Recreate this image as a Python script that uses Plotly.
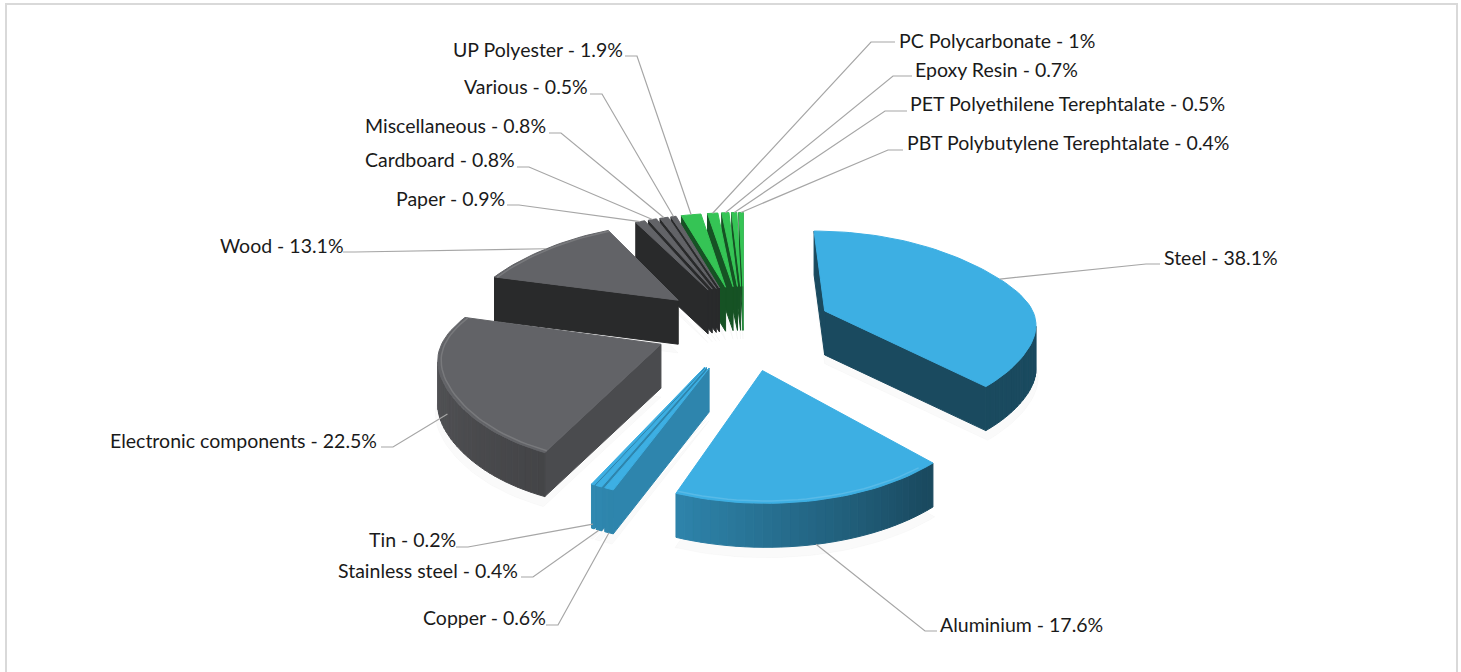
import math
import plotly.graph_objects as go

# ---- data ----
materials = ["Steel", "Aluminium", "Copper", "Stainless steel", "Tin",
             "Electronic components", "Wood", "Paper", "Cardboard", "Miscellaneous",
             "Various", "UP Polyester", "PC Polycarbonate", "Epoxy Resin",
             "PET Polyethilene Terephtalate", "PBT Polybutylene Terephtalate"]
shares = [38.1, 17.6, 0.6, 0.4, 0.2, 22.5, 13.1, 0.9, 0.8, 0.8, 0.5, 1.9, 1, 0.7, 0.5, 0.4]
groups = ["metal"] * 5 + ["other"] * 6 + ["plastic"] * 5

# ---- styling / layout ----
TOPS = {"metal": (61, 175, 227), "other": (98, 99, 103), "plastic": (53, 196, 85)}
LABEL_POS = [(1162, 257), (938, 624), (421, 617), (336, 570), (367, 539), (108, 440), (218, 245),
             (394, 198), (363, 159), (363, 125), (462, 86), (451, 49), (897, 40), (913, 69),
             (908, 103), (905, 142)]
TEXT_END = [1160, 937, 546, 521, 456, 381, 343, 507, 517, 549, 590, 625, 895, 912, 907, 903]
ELBOW = [1146, 925, 558, 533, 468, 393, 355, 519, 529, 561, 602, 637, 871, 893, 885, 888]
LINE_Y = [264, 631, 625, 577, 547, 447, 252, 205, 167, 133, 94, 56, 42, 76, 111, 150]
ANCHOR_Z = [0, -1, -1, -1, -0.9, -0.55, 0, 0, 0, 0, 0, 0, 0, 0, 0, 0]
CX, CY, AX, BY, PERSP, DEPTH, EXPLODE, RADIUS = 744, 326, 222, 106, 0.17, 44, 0.40, 0.91


def mix(c, k):
    return "rgb(%d,%d,%d)" % tuple(round(v * k) for v in c)


def lighten(c, t):
    return "rgb(%d,%d,%d)" % tuple(round(v + (255 - v) * t) for v in c)


def project(x, y, z):
    w = 1 / (1 + PERSP * y)
    return CX + AX * x * w, CY - BY * y * w - DEPTH * z


fig = go.Figure()


def poly(pts, color):
    xs = [p[0] for p in pts] + [pts[0][0]]
    ys = [p[1] for p in pts] + [pts[0][1]]
    fig.add_trace(go.Scatter(x=xs, y=ys, mode="lines", fill="toself", fillcolor=color,
                             line=dict(color=color, width=1), hoverinfo="skip", showlegend=False))


def area(pts):
    return sum(pts[i][0] * pts[(i + 1) % len(pts)][1] - pts[(i + 1) % len(pts)][0] * pts[i][1]
               for i in range(len(pts)))


def outer_shade(t):
    if t <= 140:
        return 0.42
    if t <= 205:
        return 0.42 + (t - 140) / 65 * 0.36
    return 0.69 + (t - 205) / 80 * 0.2


# wedge angles from the values
total = sum(shares)
wedges = []
acc = 0.0
for name, val, grp in zip(materials, shares, groups):
    a0 = acc / total * 360
    acc += val
    a1 = acc / total * 360
    mid = math.radians((a0 + a1) / 2)
    wedges.append(dict(a0=a0, a1=a1, ox=EXPLODE * math.sin(mid), oy=EXPLODE * math.cos(mid), grp=grp))


def rim(w, t, r=1.0):
    a = math.radians(t)
    s = math.sin(a)
    bulge = 1 + 0.055 * s ** 8
    return w["ox"] + RADIUS * r * s * bulge, w["oy"] + RADIUS * r * math.cos(a)


def arc(w):
    n = max(2, int((w["a1"] - w["a0"]) / 2.0) + 2)
    return [w["a0"] + (w["a1"] - w["a0"]) * i / (n - 1) for i in range(n)]


order = sorted(range(len(wedges)), key=lambda i: -wedges[i]["oy"])

# soft floor shadows
for i in order:
    w = wedges[i]
    ts = arc(w)
    pts = [project(w["ox"], w["oy"], -1.2)] + [project(*rim(w, t, 1.01), -1.2) for t in ts]
    poly(pts, "rgba(0,0,0,0.02)")

for i in order:
    w = wedges[i]
    c = TOPS[w["grp"]]
    ts = arc(w)
    A, Ab = project(w["ox"], w["oy"], 0), project(w["ox"], w["oy"], -1)
    # radial walls
    for t, start in ((w["a0"], True), (w["a1"], False)):
        O, Ob = project(*rim(w, t), 0), project(*rim(w, t), -1)
        q = [A, O, Ob, Ab] if start else [O, A, Ab, Ob]
        if area(q) < 0:
            normal = (t - 90) % 360 if start else (t + 90) % 360
            poly(q, mix(c, 0.76 if 90 <= normal <= 130 else 0.42))
    # outer wall
    for t0, t1 in zip(ts[:-1], ts[1:]):
        q = [project(*rim(w, t0), 0), project(*rim(w, t1), 0),
             project(*rim(w, t1), -1), project(*rim(w, t0), -1)]
        if area(q) < 0:
            poly(q, mix(c, outer_shade((t0 + t1) / 2)))
    # top face
    poly([A] + [project(*rim(w, t), 0) for t in ts], mix(c, 1.0))
    # bevel highlight on the front edge of the large wedges
    if w["a1"] - w["a0"] > 40 and w["a1"] > 150:
        front = [t for t in ts if t > 140]
        pts = [project(*rim(w, t, 0.985), 0) for t in front]
        fig.add_trace(go.Scatter(x=[p[0] for p in pts], y=[p[1] for p in pts], mode="lines",
                                 line=dict(color=lighten(c, 0.14), width=1.5),
                                 hoverinfo="skip", showlegend=False))

# leader lines and labels
annotations = []
for i, (name, val) in enumerate(zip(materials, shares)):
    w = wedges[i]
    mid = (w["a0"] + w["a1"]) / 2
    ax, ay = project(*rim(w, mid), ANCHOR_Z[i])
    lx, ly = LABEL_POS[i]
    fig.add_trace(go.Scatter(x=[TEXT_END[i], ELBOW[i], ax], y=[LINE_Y[i], LINE_Y[i], ay], mode="lines",
                             line=dict(color="#a6a6a6", width=1.2), hoverinfo="skip", showlegend=False))
    annotations.append(dict(x=lx, y=ly, xref="x", yref="y", xanchor="left", yanchor="middle",
                            text=f"{name} - {val}%", showarrow=False,
                            font=dict(family="Lato", size=19.5, color="#1a1a1a")))

fig.update_layout(
    width=1461, height=672, margin=dict(l=0, r=0, t=0, b=0),
    paper_bgcolor="white", plot_bgcolor="white", showlegend=False,
    xaxis=dict(range=[0, 1461], visible=False, fixedrange=True),
    yaxis=dict(range=[672, 0], visible=False, fixedrange=True),
    annotations=annotations,
    shapes=[dict(type="rect", xref="x", yref="y", x0=6, y0=4, x1=1457, y1=690,
                 line=dict(color="#d9d9d9", width=2), layer="below")],
)
fig.write_html("out.html", config={"displayModeBar": False},
               post_script="document.body.style.margin='0';")
